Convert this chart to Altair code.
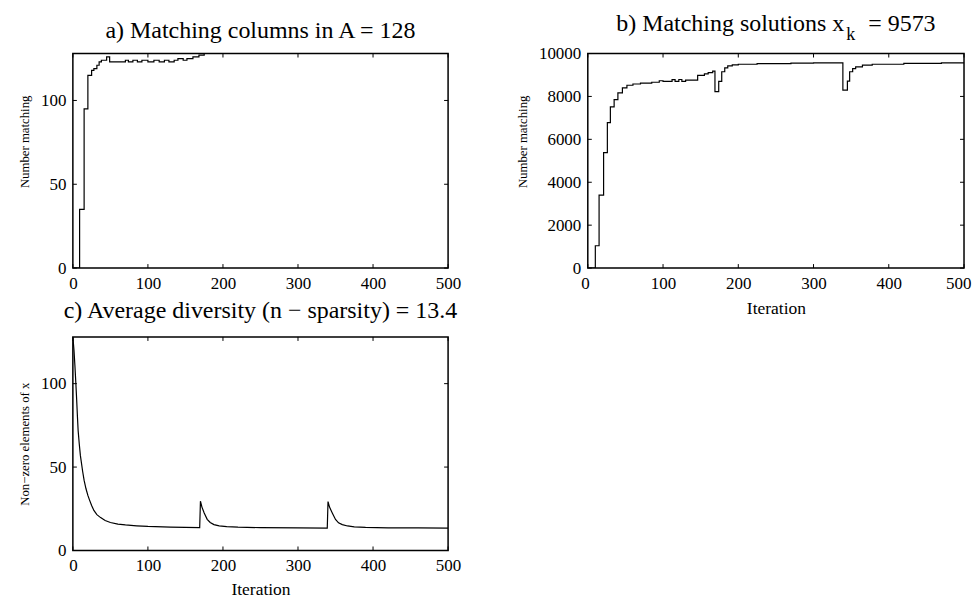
import altair as alt
import pandas as pd

# ---------------- data ----------------
# a) Matching columns in A (step plot)
a_iter = [1, 9, 15, 20, 25, 28, 32, 35, 38, 45, 49, 70, 74, 80, 86, 92, 100, 108,
          115, 122, 128, 135, 140, 147, 152, 160, 168, 175, 500]
a_match = [0, 35, 95, 115, 118, 119, 121, 123, 124, 126, 123, 124, 123, 124, 123, 124,
           123, 124, 123, 124, 123, 124, 125, 124, 125, 126, 127, 128, 128]

# b) Matching solutions x_k (step plot)
b_iter = [1, 10, 15, 21, 26, 30, 35, 40, 46, 52, 60, 70, 85, 95, 100, 112, 116, 121,
          125, 130, 146, 155, 160, 166, 169, 174, 178, 182, 186, 192, 200, 225, 270,
          300, 339, 345, 348, 352, 356, 365, 378, 420, 470, 500]
b_match = [0, 1040, 3400, 5380, 6780, 7510, 7850, 8170, 8400, 8520, 8580, 8620, 8660,
           8730, 8700, 8780, 8700, 8790, 8700, 8760, 8980, 9050, 9110, 9180, 8220, 8700,
           9150, 9330, 9420, 9470, 9500, 9530, 9550, 9565, 8290, 8710, 9150, 9300, 9380,
           9460, 9500, 9540, 9565, 9573]

# c) Average diversity (n - sparsity)
c_iter = [0, 1.5, 2.7, 4, 5, 6, 7, 8.5, 10, 13, 15, 17.5, 20, 22, 25, 28, 32, 37, 43,
          50, 60, 70, 85, 100, 130, 169, 170, 172, 175, 179, 183, 188, 195, 205, 220,
          250, 300, 339, 340, 342, 346, 350, 354, 359, 366, 375, 390, 420, 460, 500]
c_nonzero = [128, 120, 111, 100, 91, 81, 72, 64, 57, 47.5, 42, 37, 33, 30.5, 27, 24,
             21.5, 19.7, 18, 16.8, 15.8, 15.3, 14.8, 14.4, 14.0, 13.7, 29.5, 26, 22.5,
             18.7, 16.8, 15.5, 14.8, 14.3, 14.0, 13.7, 13.5, 13.4, 29.3, 26, 22.2, 18.6,
             16.6, 15.5, 14.7, 14.1, 13.8, 13.6, 13.5, 13.4]

x_ticks = [0, 100, 200, 300, 400, 500]
ya_ticks = [0, 50, 100]
yb_ticks = [0, 2000, 4000, 6000, 8000, 10000]
yc_ticks = [0, 50, 100]

NBSP = "\u00a0"
FONT = "Liberation Serif"
TL = 4  # inward tick length


def panel(x, y, title, ydomain, yticks, xtitle, ytitle, interp, w, h,
          title_offset, xkw, ykw, extra=None):
    df = pd.DataFrame({"x": x, "y": y})
    xs = alt.Scale(domain=[0, 500], nice=False, zero=False)
    ys = alt.Scale(domain=ydomain, nice=False, zero=False)
    xaxis = alt.Axis(values=x_ticks, title=xtitle, format="d", **xkw)
    yaxis = alt.Axis(values=yticks, title=ytitle, format="d", **ykw)
    line = alt.Chart(df).mark_line(
        interpolate=interp, color="black", strokeWidth=1.2, clip=True
    ).encode(
        x=alt.X("x:Q", scale=xs, axis=xaxis),
        y=alt.Y("y:Q", scale=ys, axis=yaxis),
    )
    xt = alt.Chart(pd.DataFrame({"x": x_ticks}))
    yt = alt.Chart(pd.DataFrame({"y": yticks}))
    top = xt.mark_rule(color="black", strokeWidth=1).encode(
        x=alt.X("x:Q", scale=xs, axis=xaxis), y=alt.value(0), y2=alt.value(TL))
    bot = xt.mark_rule(color="black", strokeWidth=1).encode(
        x=alt.X("x:Q", scale=xs, axis=xaxis), y=alt.value(h), y2=alt.value(h - TL))
    left = yt.mark_rule(color="black", strokeWidth=1).encode(
        y=alt.Y("y:Q", scale=ys, axis=yaxis), x=alt.value(0), x2=alt.value(TL))
    right = yt.mark_rule(color="black", strokeWidth=1).encode(
        y=alt.Y("y:Q", scale=ys, axis=yaxis), x=alt.value(w), x2=alt.value(w - TL))
    layers = [line, top, bot, left, right]
    if extra is not None:
        layers.append(extra)
    return alt.layer(*layers).properties(
        width=w, height=h,
        title=alt.TitleParams(title, font=FONT, fontSize=24, fontWeight="normal",
                              color="black", offset=title_offset),
    )


# subscript "k" of x_k in title b
sub_k = alt.Chart(pd.DataFrame({"t": ["k"]})).mark_text(
    align="left", baseline="alphabetic", font=FONT, fontSize=18, color="black"
).encode(text="t:N", x=alt.value(259), y=alt.value(-14))

pa = panel(a_iter, a_match, "a) Matching columns in A = 128", [0, 128],
           ya_ticks, None, "Number matching", "step-after", 376, 215, 10,
           {"labelFlush": False}, {"titleY": 88})
pb = panel(b_iter, b_match, "b) Matching solutions x" + NBSP * 4 + "= 9573", [0, 10000],
           yb_ticks, "Iteration", "Number matching", "step-after", 377, 215, -10,
           {"labelFlush": True, "labelFlushOffset": 7, "titlePadding": 9},
           {"titleY": 88}, extra=sub_k)
pc = panel(c_iter, c_nonzero, "c) Average diversity (n \u2212 sparsity) =  13.4",
           [0, 128], yc_ticks, "Iteration", "Non\u2212zero elements of x", "linear",
           376, 214, 13, {"labelFlush": False, "titlePadding": 7}, {})

chart = alt.concat(pa, pb, pc, columns=2, spacing={"row": 69, "column": 140},
                   bounds="flush").properties(
    background="white", padding={"left": 9, "top": 2, "right": 0, "bottom": 0}
).configure_view(
    stroke="black", strokeWidth=1.5
).configure_axis(
    domain=False, ticks=False, grid=False,
    labelFont=FONT, labelFontSize=17, labelColor="black", labelPadding=7,
    titleFont=FONT, titleFontSize=12.8, titleFontWeight="normal", titleColor="black",
    titlePadding=9,
).configure_axisX(titleFontSize=17.5)

chart.save("out.html", embed_options={"renderer": "svg", "actions": False})
